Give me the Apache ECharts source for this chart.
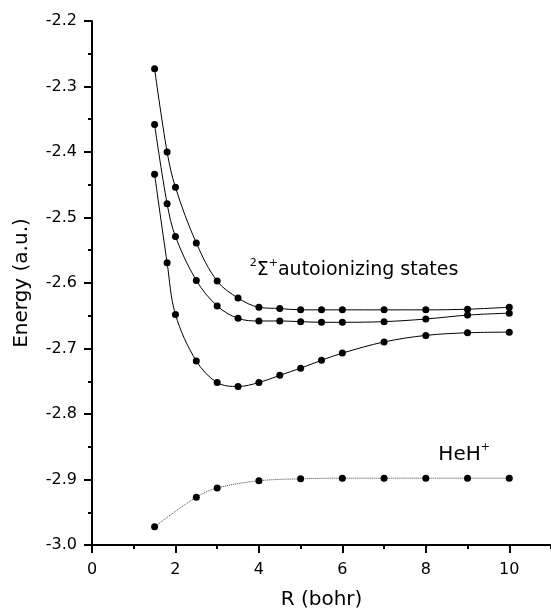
<!DOCTYPE html>
<html>
<head>
<meta charset="utf-8">
<script src="https://cdn.jsdelivr.net/npm/echarts@6/dist/echarts.min.js"></script>
<style>
  html, body { margin: 0; padding: 0; background: #fff; }
  #chart { width: 551px; height: 612px; }
</style>
</head>
<body>
<div id="chart"></div>
<script>
// internuclear distance R (bohr)
var rStates = [1.5, 1.8, 2.0, 2.5, 3.0, 3.5, 4.0, 4.5, 5.0, 5.5, 6.0, 7.0, 8.0, 9.0, 10.0];
var state1 = [-2.273, -2.400, -2.454, -2.539, -2.597, -2.623, -2.637, -2.639, -2.641, -2.641, -2.641, -2.641, -2.641, -2.640, -2.637];
var state2 = [-2.358, -2.479, -2.529, -2.596, -2.635, -2.654, -2.658, -2.658, -2.659, -2.660, -2.660, -2.659, -2.655, -2.649, -2.646];
var state3 = [-2.434, -2.569, -2.648, -2.719, -2.752, -2.758, -2.752, -2.741, -2.730, -2.718, -2.707, -2.690, -2.680, -2.676, -2.675];

var rIon = [1.5, 2.5, 3.0, 4.0, 5.0, 6.0, 7.0, 8.0, 9.0, 10.0];
var heh = [-2.972, -2.927, -2.913, -2.902, -2.899, -2.898, -2.898, -2.898, -2.898, -2.898];

// annotation anchors in data coords (left, bottom of text box)
var stateLabelAt = [3.78, -2.595];
var ionLabelAt = [8.3, -2.878];

var font = 'DejaVu Sans';

function pairs(xs, ys) {
	var out = [];
	for (var i = 0; i < xs.length; i++) out.push([xs[i], ys[i]]);
	return out;
}

function stateSeries(name, ys) {
	return {
		name: name,
		type: 'line',
		smooth: 0.35,
		data: pairs(rStates, ys),
		symbol: 'circle',
		symbolSize: 7,
		itemStyle: { color: '#000' },
		lineStyle: { color: '#000', width: 1 },
		z: 3
	};
}

var chart = echarts.init(document.getElementById('chart'));
chart.setOption({
	animation: false,
	backgroundColor: '#fff',
	grid: { left: 92, right: 0, top: 21, bottom: 67, containLabel: false, outerBoundsMode: 'none' },
	xAxis: [
		{
			type: 'value',
			min: 0, max: 11, interval: 2,
			name: 'R (bohr)',
			nameLocation: 'middle',
			nameGap: 45,
			nameTextStyle: { fontFamily: font, fontSize: 20, color: '#000' },
			axisLine: { lineStyle: { color: '#000', width: 2 } },
			axisTick: { length: 8, lineStyle: { color: '#000', width: 2 } },
			axisLabel: { fontFamily: font, fontSize: 16, color: '#000', margin: 17, showMaxLabel: false },
			splitLine: { show: false }
		},
		{
			// minor ticks every 1
			type: 'value',
			min: 0, max: 11, interval: 1,
			position: 'bottom',
			axisLine: { show: false },
			axisTick: { length: 4, lineStyle: { color: '#000', width: 2 } },
			axisLabel: { show: false },
			splitLine: { show: false }
		}
	],
	yAxis: {
		type: 'value',
		min: -3.0, max: -2.2, interval: 0.1,
		name: 'Energy (a.u.)',
		nameLocation: 'middle',
		nameRotate: 90,
		nameGap: 60,
		nameTextStyle: { fontFamily: font, fontSize: 20, color: '#000' },
		axisLine: { show: true, lineStyle: { color: '#000', width: 2 } },
		axisTick: { show: true, length: 8, lineStyle: { color: '#000', width: 2 } },
		minorTick: { show: true, splitNumber: 2, length: 4, lineStyle: { color: '#000', width: 2 } },
		axisLabel: {
			fontFamily: font, fontSize: 16, color: '#000', margin: 15,
			formatter: function (v) { return v.toFixed(1); }
		},
		splitLine: { show: false }
	},
	series: [
		stateSeries('state 1', state1),
		stateSeries('state 2', state2),
		stateSeries('state 3', state3),
		{
			name: 'HeH+',
			type: 'line',
			smooth: 0.35,
			data: pairs(rIon, heh),
			symbol: 'circle',
			symbolSize: 7,
			itemStyle: { color: '#000' },
			lineStyle: { color: '#444', width: 1, type: 'dotted' },
			z: 3
		}
	]
});

// text annotations, placed from data coordinates
var p1 = chart.convertToPixel({ gridIndex: 0 }, stateLabelAt);
var p2 = chart.convertToPixel({ gridIndex: 0 }, ionLabelAt);
var richStyles = function (size) {
	return {
		m: { fontFamily: font, fontSize: size, lineHeight: size + 3, verticalAlign: 'bottom' },
		s: { fontFamily: font, fontSize: 11, lineHeight: 12, verticalAlign: 'top', padding: [0, 0, size - 4, 0] }
	};
};
chart.setOption({
	graphic: [
		{
			type: 'text',
			x: p1[0], y: p1[1],
			style: {
				text: '{s|2}{m|Σ}{s|+}{m|autoionizing states}',
				fill: '#000',
				verticalAlign: 'bottom',
				rich: richStyles(19)
			}
		},
		{
			type: 'text',
			x: p2[0], y: p2[1],
			style: {
				text: '{m|HeH}{s|+}',
				fill: '#000',
				verticalAlign: 'bottom',
				rich: richStyles(20)
			}
		}
	]
});
</script>
</body>
</html>
